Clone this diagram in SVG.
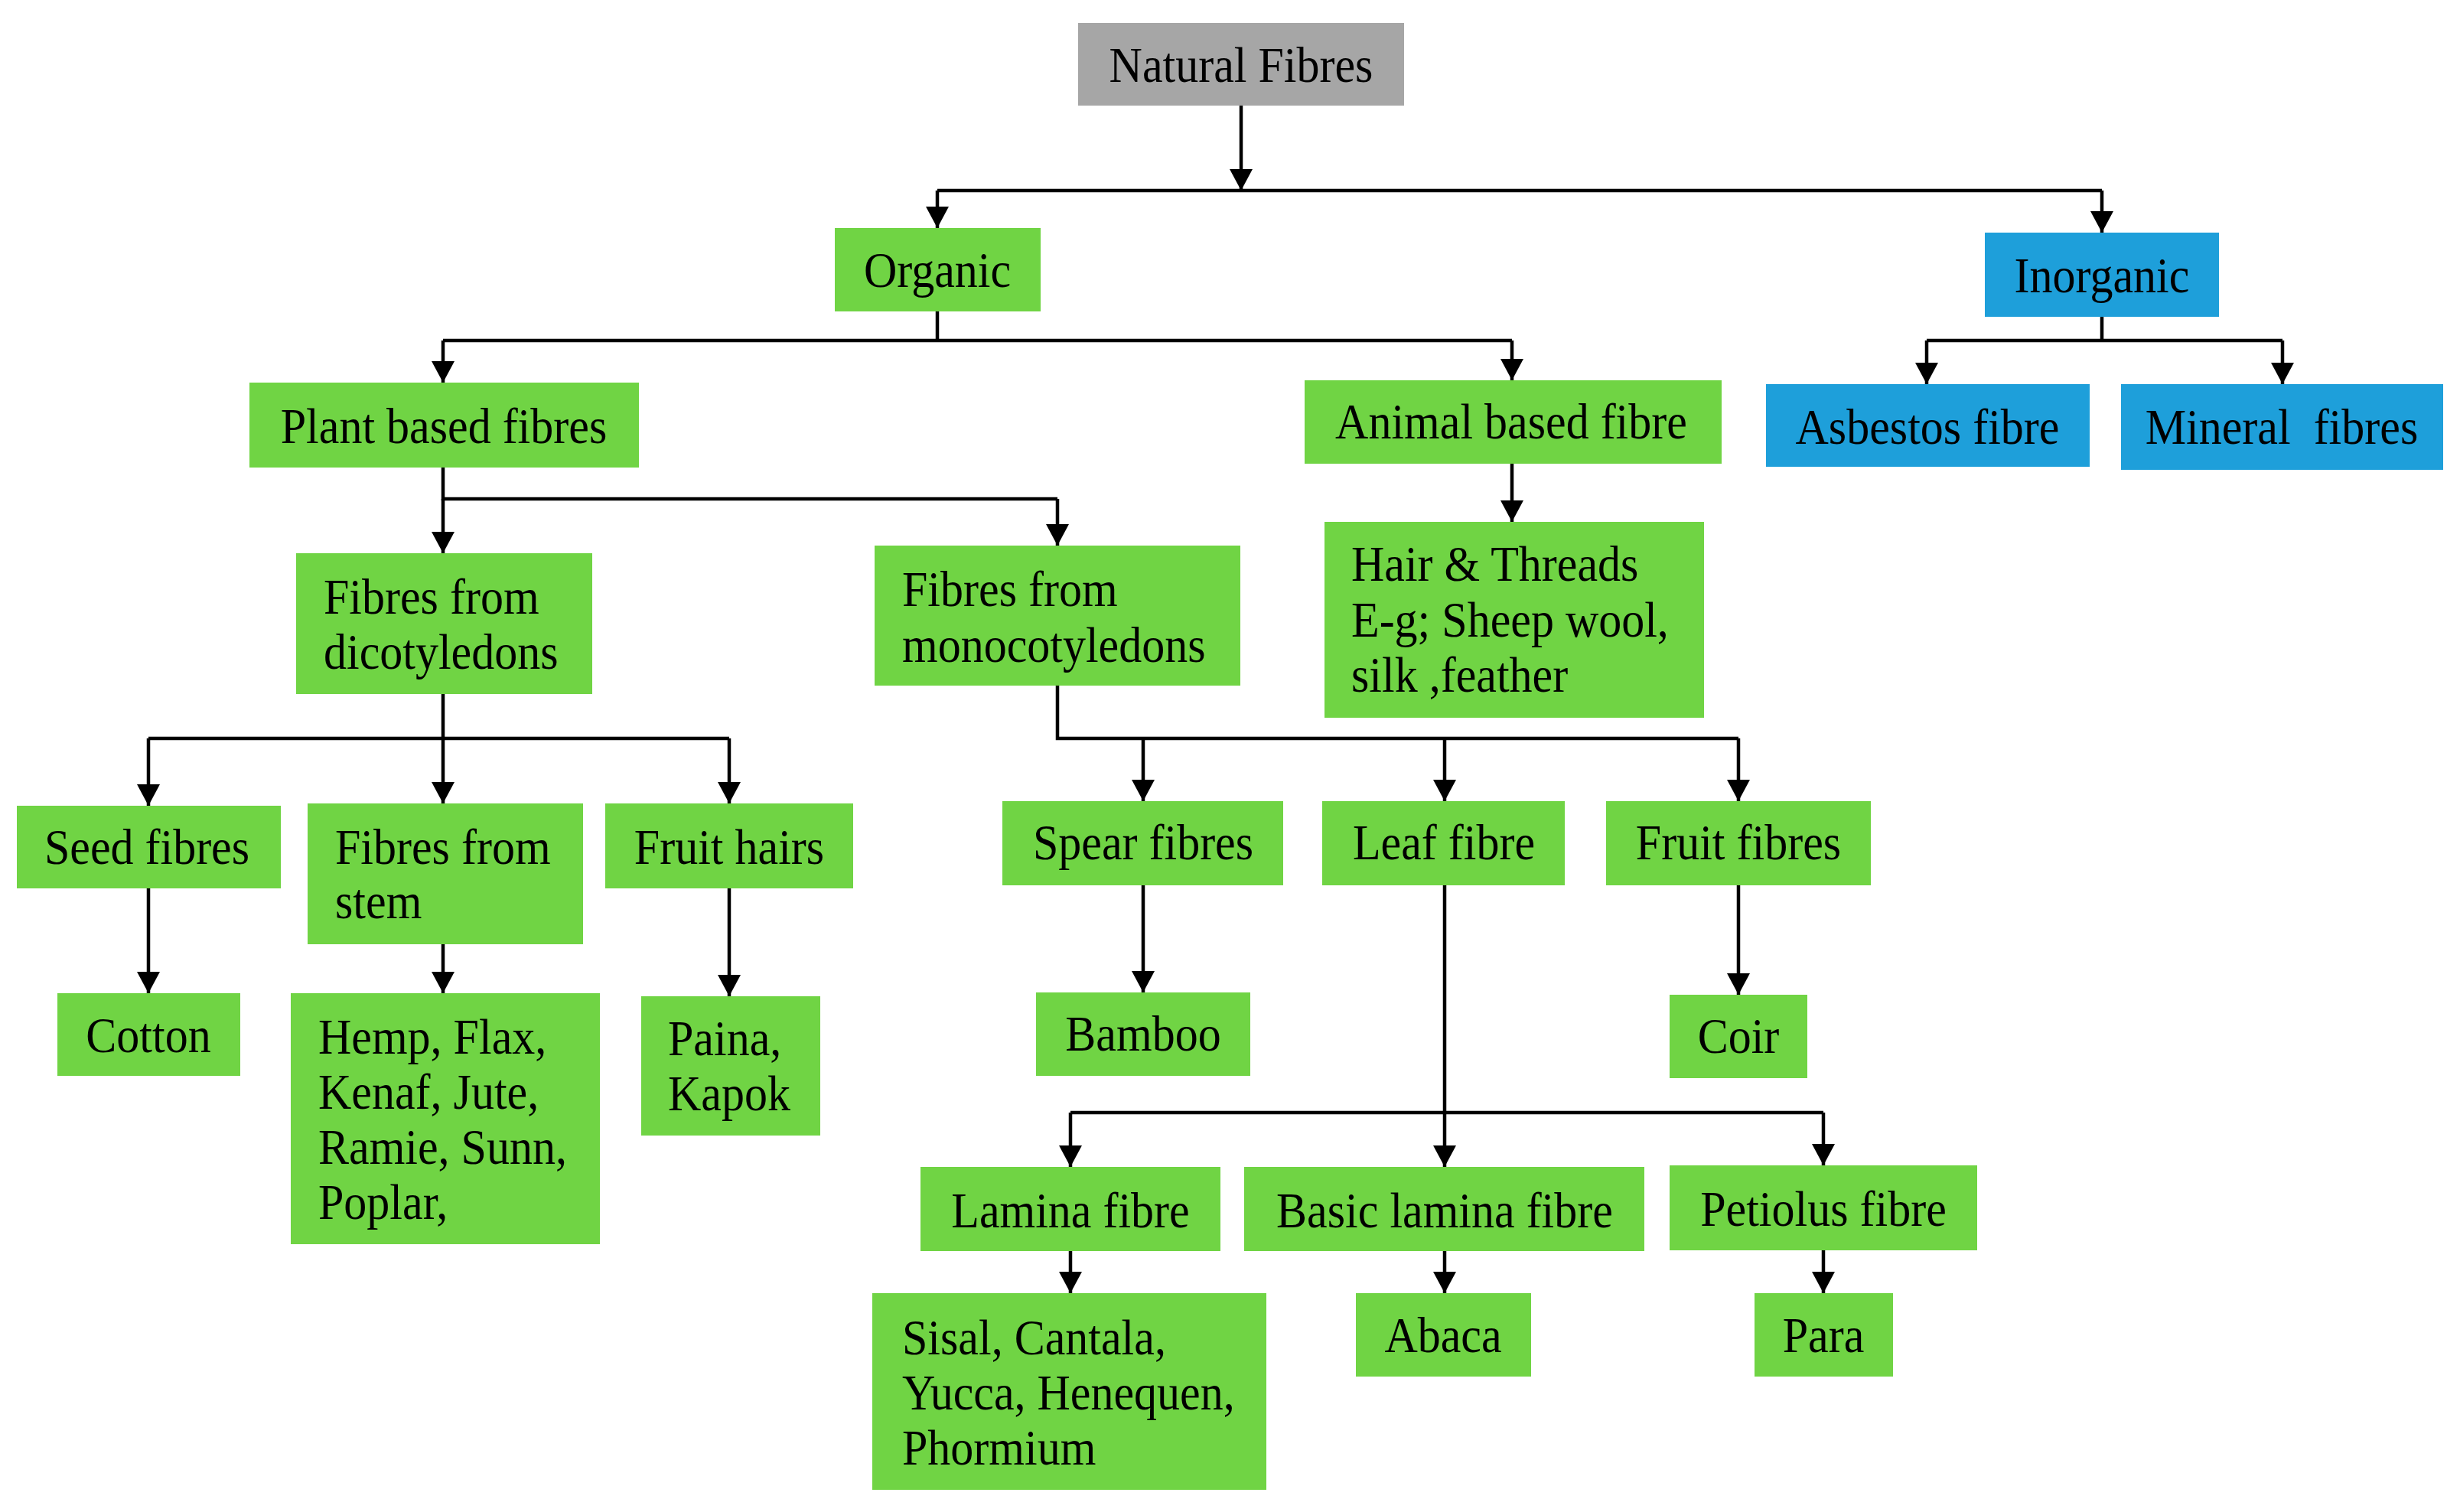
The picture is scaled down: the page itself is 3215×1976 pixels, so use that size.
<svg xmlns="http://www.w3.org/2000/svg" width="3215" height="1976" viewBox="0 0 3215 1976">
<style>
.g{fill:#70D444}
.b{fill:#1E9FDA}
.n{fill:#A6A6A6}
text{font-family:"Liberation Serif","Times New Roman",serif;font-size:60px;fill:#000;transform-box:fill-box;transform-origin:center;transform:scaleY(1.08)}
.c{text-anchor:middle}
.ln{fill:none;stroke:#000;stroke-width:4.5}
</style>
<defs>
<marker id="arr" markerUnits="userSpaceOnUse" markerWidth="28" markerHeight="30" viewBox="0 0 28 30" refX="28" refY="15" orient="auto">
<path d="M0,0 L28,15 L0,30 z" fill="#000"/>
</marker>
</defs>
<rect width="3215" height="1976" fill="#fff"/>
<g id="connectors">
<path class="ln" d="M1622,138 V249" marker-end="url(#arr)"/>
<path class="ln" d="M1225,249 H2747"/>
<path class="ln" d="M1225,249 V298" marker-end="url(#arr)"/>
<path class="ln" d="M2747,249 V304" marker-end="url(#arr)"/>
<path class="ln" d="M1225,407 V445 M579,445 H1976"/>
<path class="ln" d="M579,445 V500" marker-end="url(#arr)"/>
<path class="ln" d="M1976,445 V497" marker-end="url(#arr)"/>
<path class="ln" d="M2747,414 V445 M2518,445 H2983"/>
<path class="ln" d="M2518,445 V502" marker-end="url(#arr)"/>
<path class="ln" d="M2983,445 V502" marker-end="url(#arr)"/>
<path class="ln" d="M1976,606 V682" marker-end="url(#arr)"/>
<path class="ln" d="M579,611 V652 H1382"/>
<path class="ln" d="M579,652 V723" marker-end="url(#arr)"/>
<path class="ln" d="M1382,652 V713" marker-end="url(#arr)"/>
<path class="ln" d="M194,965 H953"/>
<path class="ln" d="M579,907 V1050" marker-end="url(#arr)"/>
<path class="ln" d="M194,965 V1053" marker-end="url(#arr)"/>
<path class="ln" d="M953,965 V1050" marker-end="url(#arr)"/>
<path class="ln" d="M194,1161 V1298" marker-end="url(#arr)"/>
<path class="ln" d="M579,1234 V1298" marker-end="url(#arr)"/>
<path class="ln" d="M953,1161 V1302" marker-end="url(#arr)"/>
<path class="ln" d="M1382,896 V965 H2272"/>
<path class="ln" d="M1494,965 V1047" marker-end="url(#arr)"/>
<path class="ln" d="M1888,965 V1047" marker-end="url(#arr)"/>
<path class="ln" d="M2272,965 V1047" marker-end="url(#arr)"/>
<path class="ln" d="M1494,1157 V1297" marker-end="url(#arr)"/>
<path class="ln" d="M2272,1157 V1300" marker-end="url(#arr)"/>
<path class="ln" d="M1888,1157 V1525" marker-end="url(#arr)"/>
<path class="ln" d="M1399,1454 H2383"/>
<path class="ln" d="M1399,1454 V1525" marker-end="url(#arr)"/>
<path class="ln" d="M2383,1454 V1523" marker-end="url(#arr)"/>
<path class="ln" d="M1399,1635 V1690" marker-end="url(#arr)"/>
<path class="ln" d="M1888,1635 V1690" marker-end="url(#arr)"/>
<path class="ln" d="M2383,1634 V1690" marker-end="url(#arr)"/>
</g>
<g id="natural"><rect class="n" x="1409" y="30" width="426" height="108"/><text class="c" x="1622" y="105">Natural Fibres</text></g>
<g id="organic"><rect class="g" x="1091" y="298" width="269" height="109"/><text class="c" x="1225" y="373">Organic</text></g>
<g id="inorganic"><rect class="b" x="2594" y="304" width="306" height="110"/><text class="c" x="2747" y="380">Inorganic</text></g>
<g id="plant"><rect class="g" x="326" y="500" width="509" height="111"/><text class="c" x="580" y="577">Plant based fibres</text></g>
<g id="animal"><rect class="g" x="1705" y="497" width="545" height="109"/><text class="c" x="1975" y="571">Animal based fibre</text></g>
<g id="asbestos"><rect class="b" x="2308" y="502" width="423" height="108"/><text class="c" x="2519" y="578">Asbestos fibre</text></g>
<g id="mineral"><rect class="b" x="2772" y="502" width="421" height="112"/><text class="c" x="2982" y="578" xml:space="preserve">Mineral  fibres</text></g>
<g id="dicot"><rect class="g" x="387" y="723" width="387" height="184"/><text x="423" y="800">Fibres from</text><text x="423" y="872">dicotyledons</text></g>
<g id="monocot"><rect class="g" x="1143" y="713" width="478" height="183"/><text x="1179" y="790">Fibres from</text><text x="1179" y="863">monocotyledons</text></g>
<g id="hair"><rect class="g" x="1731" y="682" width="496" height="256"/><text x="1766" y="757">Hair &amp; Threads</text><text x="1766" y="830">E-g; Sheep wool,</text><text x="1766" y="902">silk ,feather</text></g>
<g id="seed"><rect class="g" x="22" y="1053" width="345" height="108"/><text class="c" x="192" y="1127">Seed fibres</text></g>
<g id="stem"><rect class="g" x="402" y="1050" width="360" height="184"/><text x="438" y="1127">Fibres from</text><text x="438" y="1198">stem</text></g>
<g id="fruithairs"><rect class="g" x="791" y="1050" width="324" height="111"/><text class="c" x="953" y="1127">Fruit hairs</text></g>
<g id="spear"><rect class="g" x="1310" y="1047" width="367" height="110"/><text class="c" x="1494" y="1121">Spear fibres</text></g>
<g id="leaf"><rect class="g" x="1728" y="1047" width="317" height="110"/><text class="c" x="1887" y="1121">Leaf fibre</text></g>
<g id="fruitfibres"><rect class="g" x="2099" y="1047" width="346" height="110"/><text class="c" x="2272" y="1121">Fruit fibres</text></g>
<g id="cotton"><rect class="g" x="75" y="1298" width="239" height="108"/><text class="c" x="194" y="1373">Cotton</text></g>
<g id="hemp"><rect class="g" x="380" y="1298" width="404" height="328"/><text x="416" y="1375">Hemp, Flax,</text><text x="416" y="1447">Kenaf, Jute,</text><text x="416" y="1519">Ramie, Sunn,</text><text x="416" y="1591">Poplar,</text></g>
<g id="paina"><rect class="g" x="838" y="1302" width="234" height="182"/><text x="873" y="1377">Paina,</text><text x="873" y="1449">Kapok</text></g>
<g id="bamboo"><rect class="g" x="1354" y="1297" width="280" height="109"/><text class="c" x="1494" y="1371">Bamboo</text></g>
<g id="coir"><rect class="g" x="2182" y="1300" width="180" height="109"/><text class="c" x="2272" y="1374">Coir</text></g>
<g id="lamina"><rect class="g" x="1203" y="1525" width="392" height="110"/><text class="c" x="1399" y="1602">Lamina fibre</text></g>
<g id="basic"><rect class="g" x="1626" y="1525" width="523" height="110"/><text class="c" x="1888" y="1602">Basic lamina fibre</text></g>
<g id="petiolus"><rect class="g" x="2182" y="1523" width="402" height="111"/><text class="c" x="2383" y="1600">Petiolus fibre</text></g>
<g id="sisal"><rect class="g" x="1140" y="1690" width="515" height="257"/><text x="1179" y="1768">Sisal, Cantala,</text><text x="1179" y="1840">Yucca, Henequen,</text><text x="1179" y="1912">Phormium</text></g>
<g id="abaca"><rect class="g" x="1772" y="1690" width="229" height="109"/><text class="c" x="1886" y="1765">Abaca</text></g>
<g id="para"><rect class="g" x="2293" y="1690" width="181" height="109"/><text class="c" x="2383" y="1765">Para</text></g>
</svg>
